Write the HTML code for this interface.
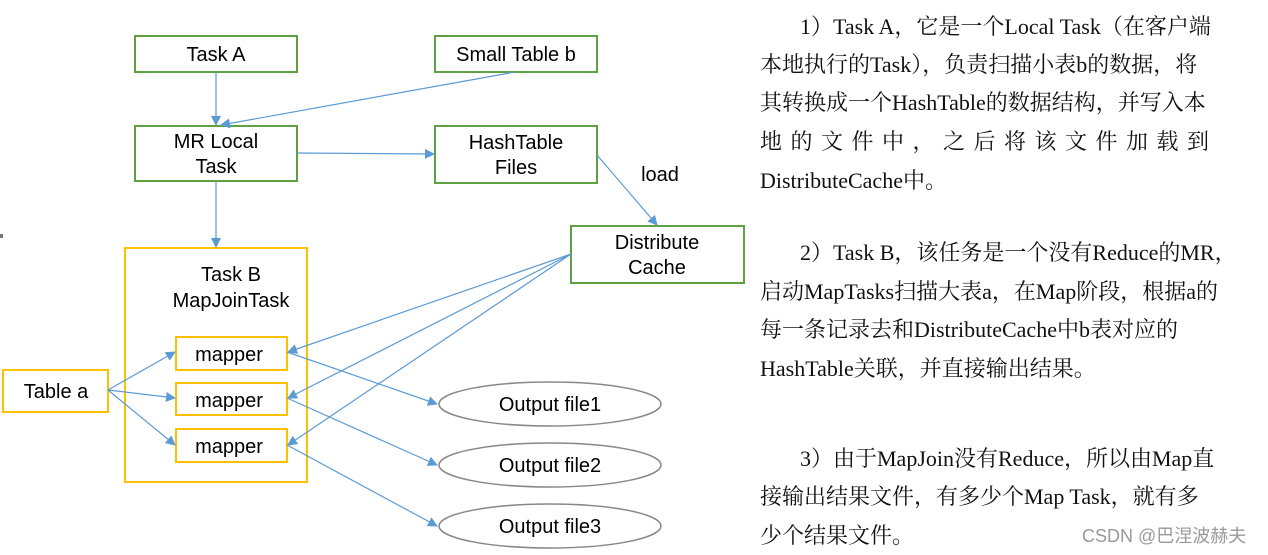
<!DOCTYPE html>
<html><head><meta charset="utf-8"><style>
body{margin:0;width:1268px;height:552px;background:#fff;overflow:hidden;position:relative;font-family:"Liberation Sans","Noto Sans CJK SC",sans-serif}
.t{position:absolute;left:760px;font-family:"Liberation Serif","Noto Serif CJK SC",serif;font-size:22px;color:#111;white-space:nowrap;line-height:38px}
.i{left:800px}
</style></head><body>
<svg width="1268" height="552" style="position:absolute;left:0;top:0" font-family="Liberation Sans, sans-serif" font-size="20" fill="#000">
<defs><marker id="a" markerWidth="10" markerHeight="10" refX="9" refY="5" orient="auto" markerUnits="userSpaceOnUse"><path d="M0,0 L10,5 L0,10 z" fill="#5b9bd5"/></marker></defs>
<rect x="0" y="234" width="3" height="4" fill="#777"/>
<g fill="#fff" stroke-width="2">
<rect x="135" y="36" width="162" height="36" stroke="#5fa040"/>
<rect x="435" y="36" width="162" height="36" stroke="#5fa040"/>
<rect x="135" y="126" width="162" height="55" stroke="#5fa040"/>
<rect x="435" y="126" width="162" height="57" stroke="#5fa040"/>
<rect x="571" y="226" width="173" height="57" stroke="#5fa040"/>
<rect x="125" y="248" width="182" height="234" stroke="#ffc000"/>
<rect x="176" y="337" width="111" height="33" stroke="#ffc000"/>
<rect x="176" y="383" width="111" height="32" stroke="#ffc000"/>
<rect x="176" y="429" width="111" height="33" stroke="#ffc000"/>
<rect x="3" y="370" width="105" height="42" stroke="#ffc000"/>
<ellipse cx="550" cy="404" rx="111" ry="22" stroke="#888" stroke-width="1.5"/>
<ellipse cx="550" cy="465" rx="111" ry="22" stroke="#888" stroke-width="1.5"/>
<ellipse cx="550" cy="526" rx="111" ry="22" stroke="#888" stroke-width="1.5"/>
</g>
<g stroke="#5b9bd5" stroke-width="1.2" marker-end="url(#a)">
<line x1="216" y1="72" x2="216" y2="125"/>
<line x1="515" y1="72" x2="221" y2="125"/>
<line x1="297" y1="153" x2="434" y2="154"/>
<line x1="597" y1="155" x2="657" y2="225"/>
<line x1="216" y1="181" x2="216" y2="247"/>
<line x1="108" y1="390" x2="175" y2="352"/>
<line x1="108" y1="390" x2="175" y2="398"/>
<line x1="108" y1="390" x2="175" y2="445"/>
<line x1="571" y1="254" x2="288" y2="352"/>
<line x1="571" y1="254" x2="288" y2="398"/>
<line x1="571" y1="254" x2="288" y2="445"/>
<line x1="287" y1="352" x2="437" y2="404"/>
<line x1="287" y1="398" x2="437" y2="465"/>
<line x1="287" y1="445" x2="437" y2="526"/>
</g>
<g text-anchor="middle">
<text x="216" y="61">Task A</text>
<text x="516" y="61">Small Table b</text>
<text x="216" y="148">MR Local</text>
<text x="216" y="173">Task</text>
<text x="516" y="149">HashTable</text>
<text x="516" y="174">Files</text>
<text x="657" y="249">Distribute</text>
<text x="657" y="274">Cache</text>
<text x="231" y="281">Task B</text>
<text x="231" y="307">MapJoinTask</text>
<text x="229" y="361">mapper</text>
<text x="229" y="407">mapper</text>
<text x="229" y="453">mapper</text>
<text x="56" y="398">Table a</text>
<text x="550" y="411">Output file1</text>
<text x="550" y="472">Output file2</text>
<text x="550" y="533">Output file3</text>
<text x="660" y="181">load</text>
</g>
</svg>
<div class="t i" style="top:8px">1）Task A，它是一个Local Task（在客户端</div>
<div class="t" style="top:46px">本地执行的Task），负责扫描小表b的数据，将</div>
<div class="t" style="top:84px">其转换成一个HashTable的数据结构，并写入本</div>
<div class="t" style="top:123px;letter-spacing:8.5px">地的文件中，之后将该文件加载到</div>
<div class="t" style="top:162px">DistributeCache中。</div>
<div class="t i" style="top:234px">2）Task B，该任务是一个没有Reduce的MR，</div>
<div class="t" style="top:273px">启动MapTasks扫描大表a，在Map阶段，根据a的</div>
<div class="t" style="top:311px">每一条记录去和DistributeCache中b表对应的</div>
<div class="t" style="top:350px">HashTable关联，并直接输出结果。</div>
<div class="t i" style="top:440px">3）由于MapJoin没有Reduce，所以由Map直</div>
<div class="t" style="top:478px">接输出结果文件，有多少个Map Task，就有多</div>
<div class="t" style="top:517px">少个结果文件。</div>
<div style="position:absolute;left:1082px;top:522px;font-size:18px;color:#999;font-family:'Liberation Sans','Noto Sans CJK SC',sans-serif">CSDN @巴涅波赫夫</div>
</body></html>
